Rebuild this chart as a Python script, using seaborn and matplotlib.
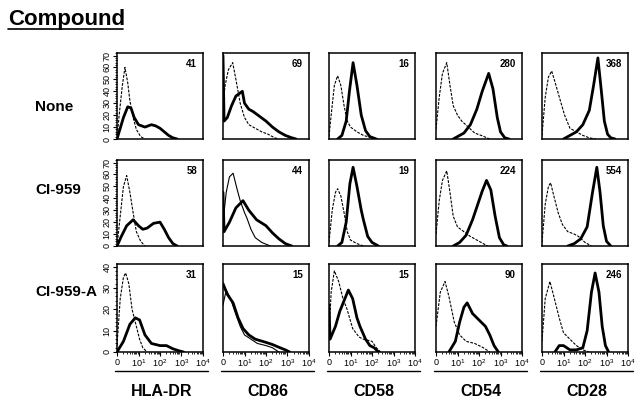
import matplotlib
matplotlib.use("Agg")
import matplotlib.pyplot as plt
import seaborn as sns
import pandas as pd
from matplotlib.ticker import MultipleLocator, FixedLocator
from matplotlib.lines import Line2D

# ==================================================
# DATA (log10 fluorescence, cell count)
# ==================================================
markers = ["HLA-DR", "CD86", "CD58", "CD54", "CD28"]
compounds = ["None", "CI-959", "CI-959-A"]

mfi_none = [41, 69, 16, 280, 368]
mfi_ci959 = [58, 44, 19, 224, 554]
mfi_ci959a = [31, 15, 15, 90, 246]

y_max = [70, 70, 40]

# row 1 - None
hla_none_ctrl = [(0, 0), (0.1, 20), (0.25, 45), (0.37, 60), (0.5, 47), (0.6, 32), (0.75, 18), (0.9, 8), (1.1, 2), (1.3, 0)]
hla_none_ab = [(0, 0), (0.1, 6), (0.3, 18), (0.5, 27), (0.65, 26), (0.8, 18), (1.0, 12), (1.3, 10), (1.6, 12), (1.8, 11), (2.0, 9), (2.2, 6), (2.4, 3), (2.6, 1), (2.8, 0)]
cd86_none_ctrl = [(0, 30), (0.1, 45), (0.25, 58), (0.45, 64), (0.6, 50), (0.8, 30), (1.0, 18), (1.2, 12), (1.5, 9), (1.8, 6), (2.1, 4), (2.4, 1), (2.6, 0)]
cd86_none_ab = [(0, 70), (0.05, 15), (0.2, 18), (0.4, 28), (0.6, 36), (0.9, 40), (1.0, 30), (1.2, 25), (1.4, 23), (1.7, 19), (2.0, 15), (2.3, 10), (2.6, 6), (2.9, 3), (3.2, 1), (3.4, 0)]
cd58_none_ctrl = [(0, 2), (0.1, 20), (0.25, 45), (0.4, 53), (0.55, 45), (0.7, 28), (0.85, 15), (1.0, 10), (1.3, 6), (1.6, 3), (2.0, 1), (2.3, 0)]
cd58_none_ab = [(0.4, 0), (0.6, 3), (0.8, 15), (0.95, 40), (1.12, 64), (1.3, 45), (1.5, 20), (1.7, 7), (1.9, 2), (2.2, 0)]
cd54_none_ctrl = [(0, 8), (0.15, 35), (0.3, 55), (0.5, 64), (0.65, 45), (0.8, 28), (1.0, 20), (1.2, 15), (1.5, 10), (1.8, 5), (2.1, 3), (2.5, 0)]
cd54_none_ab = [(0.8, 0), (1.0, 2), (1.3, 5), (1.6, 12), (1.9, 25), (2.15, 40), (2.45, 55), (2.65, 42), (2.85, 18), (3.0, 6), (3.2, 1), (3.4, 0)]
cd28_none_ctrl = [(0, 3), (0.15, 35), (0.3, 52), (0.45, 57), (0.6, 48), (0.84, 33), (1.05, 20), (1.3, 9), (1.6, 6), (1.9, 3), (2.2, 1), (2.5, 0)]
cd28_none_ab = [(1.0, 0), (1.3, 3), (1.6, 6), (1.9, 12), (2.2, 24), (2.4, 45), (2.6, 68), (2.75, 42), (2.9, 15), (3.05, 4), (3.2, 1), (3.4, 0)]

# row 2 - CI-959
hla_959_ctrl = [(0, 0), (0.15, 25), (0.3, 50), (0.45, 59), (0.6, 45), (0.75, 28), (0.9, 12), (1.1, 4), (1.3, 0)]
hla_959_ab = [(0, 0), (0.2, 8), (0.45, 17), (0.75, 22), (1.0, 17), (1.2, 14), (1.4, 15), (1.7, 19), (2.0, 20), (2.2, 14), (2.4, 7), (2.6, 2), (2.8, 0)]
cd86_959_ctrl = [(0, 20), (0.15, 45), (0.3, 58), (0.47, 61), (0.65, 48), (0.8, 38), (1.0, 28), (1.1, 24), (1.3, 14), (1.5, 7), (1.8, 3), (2.2, 0)]
cd86_959_ab = [(0, 45), (0.05, 12), (0.3, 20), (0.6, 32), (0.93, 38), (1.2, 30), (1.56, 22), (2.0, 17), (2.3, 11), (2.6, 6), (2.9, 2), (3.2, 0)]
cd58_959_ctrl = [(0, 3), (0.15, 30), (0.3, 45), (0.4, 48), (0.55, 42), (0.7, 28), (0.85, 12), (1.0, 5), (1.3, 2), (1.6, 0)]
cd58_959_ab = [(0.4, 0), (0.6, 3), (0.8, 20), (0.97, 52), (1.12, 66), (1.3, 50), (1.5, 30), (1.6, 22), (1.8, 8), (2.0, 3), (2.3, 0)]
cd54_959_ctrl = [(0, 10), (0.15, 38), (0.3, 55), (0.5, 63), (0.65, 45), (0.8, 25), (1.0, 16), (1.3, 12), (1.6, 8), (2.0, 4), (2.4, 0)]
cd54_959_ab = [(0.8, 0), (1.1, 3), (1.4, 9), (1.7, 22), (2.0, 38), (2.15, 46), (2.35, 55), (2.55, 47), (2.75, 25), (2.95, 7), (3.15, 1), (3.3, 0)]
cd28_959_ctrl = [(0, 3), (0.15, 35), (0.3, 50), (0.4, 53), (0.55, 42), (0.75, 28), (0.95, 18), (1.2, 12), (1.5, 10), (1.7, 8), (2.0, 3), (2.3, 0)]
cd28_959_ab = [(1.2, 0), (1.5, 2), (1.8, 6), (2.1, 16), (2.35, 45), (2.55, 66), (2.7, 45), (2.85, 17), (3.0, 4), (3.2, 0)]

# row 3 - CI-959-A
hla_959a_ctrl = [(0, 3), (0.15, 25), (0.3, 35), (0.4, 37), (0.55, 32), (0.7, 20), (0.9, 12), (1.05, 6), (1.2, 2), (1.4, 0)]
hla_959a_ab = [(0, 0), (0.3, 5), (0.6, 13), (0.85, 16), (1.05, 15), (1.3, 8), (1.6, 4), (2.0, 3), (2.3, 3), (2.6, 1.5), (2.9, 0.5), (3.1, 0)]
cd86_959a_ctrl = [(0, 22), (0.15, 29), (0.35, 25), (0.55, 19), (0.8, 12), (1.0, 8), (1.3, 6), (1.6, 4), (2.0, 3), (2.3, 2), (2.6, 0)]
cd86_959a_ab = [(0, 32), (0.2, 27), (0.47, 23), (0.7, 16), (0.93, 11), (1.2, 8), (1.5, 6), (2.0, 4.5), (2.3, 3.5), (2.65, 2), (2.9, 1), (3.1, 0)]
cd58_959a_ctrl = [(0, 8), (0.1, 28), (0.25, 38), (0.45, 33), (0.65, 25), (0.84, 20), (1.1, 11), (1.4, 7), (1.6, 6), (2.0, 5), (2.2, 2), (2.4, 0)]
cd58_959a_ab = [(0, 22), (0.05, 6), (0.3, 12), (0.5, 19), (0.7, 24), (0.9, 29), (1.1, 25), (1.3, 16), (1.44, 12), (1.7, 6), (1.9, 3), (2.1, 2), (2.3, 0)]
cd54_959a_ctrl = [(0, 12), (0.2, 28), (0.42, 33), (0.6, 26), (0.85, 14), (1.1, 8), (1.4, 5), (1.8, 4), (2.2, 2), (2.5, 0)]
cd54_959a_ab = [(0.6, 0), (0.9, 5), (1.1, 14), (1.3, 21), (1.45, 23), (1.7, 18), (2.0, 15), (2.3, 12), (2.5, 8), (2.7, 3), (2.9, 0)]
cd28_959a_ctrl = [(0, 5), (0.15, 25), (0.37, 33), (0.55, 26), (0.8, 16), (1.0, 9), (1.3, 6), (1.6, 3), (1.9, 1), (2.2, 0)]
cd28_959a_ab = [(0.6, 0), (0.8, 3), (1.0, 3), (1.3, 1), (1.6, 1), (1.9, 2), (2.1, 10), (2.3, 28), (2.47, 37), (2.65, 28), (2.8, 12), (2.95, 3), (3.1, 0)]

# ==================================================
# LONG TABLE
# ==================================================
curves = {
    ("None", "HLA-DR"): (hla_none_ctrl, hla_none_ab),
    ("None", "CD86"): (cd86_none_ctrl, cd86_none_ab),
    ("None", "CD58"): (cd58_none_ctrl, cd58_none_ab),
    ("None", "CD54"): (cd54_none_ctrl, cd54_none_ab),
    ("None", "CD28"): (cd28_none_ctrl, cd28_none_ab),
    ("CI-959", "HLA-DR"): (hla_959_ctrl, hla_959_ab),
    ("CI-959", "CD86"): (cd86_959_ctrl, cd86_959_ab),
    ("CI-959", "CD58"): (cd58_959_ctrl, cd58_959_ab),
    ("CI-959", "CD54"): (cd54_959_ctrl, cd54_959_ab),
    ("CI-959", "CD28"): (cd28_959_ctrl, cd28_959_ab),
    ("CI-959-A", "HLA-DR"): (hla_959a_ctrl, hla_959a_ab),
    ("CI-959-A", "CD86"): (cd86_959a_ctrl, cd86_959a_ab),
    ("CI-959-A", "CD58"): (cd58_959a_ctrl, cd58_959a_ab),
    ("CI-959-A", "CD54"): (cd54_959a_ctrl, cd54_959a_ab),
    ("CI-959-A", "CD28"): (cd28_959a_ctrl, cd28_959a_ab),
}

rows = []
for (comp, mark), (ctrl, ab) in curves.items():
    for stain, pts in (("control", ctrl), ("antibody", ab)):
        for i, (x, y) in enumerate(pts):
            rows.append({"compound": comp, "marker": mark, "stain": stain,
                         "order": i, "log_fl": x, "count": y})
df = pd.DataFrame(rows)

mfi = {"None": mfi_none, "CI-959": mfi_ci959, "CI-959-A": mfi_ci959a}

# ==================================================
# FIGURE
# ==================================================
sns.set_theme(style="white")
plt.rcParams["font.family"] = ["Liberation Sans", "DejaVu Sans"]
plt.rcParams["mathtext.fontset"] = "custom"
plt.rcParams["mathtext.rm"] = "Liberation Sans"
for key in ["text.color", "axes.labelcolor", "xtick.color", "ytick.color",
            "axes.edgecolor"]:
    plt.rcParams[key] = "black"

W, H = 641, 405
fig = plt.figure(figsize=(W / 100, H / 100), dpi=100)

col_left = [117, 223, 329, 436, 542]
row_top = [53, 160, 264]
row_h = [86, 86, 88]
panel_w = 86

# thin solid control for CD86 in treated rows
thin_solid = {("CI-959", "CD86"), ("CI-959-A", "CD86")}

for r, comp in enumerate(compounds):
    for c, mark in enumerate(markers):
        ax = fig.add_axes([col_left[c] / W, 1 - (row_top[r] + row_h[r]) / H,
                           panel_w / W, row_h[r] / H])
        sub = df[(df["compound"] == comp) & (df["marker"] == mark)]
        ctrl = sub[sub["stain"] == "control"]
        ab = sub[sub["stain"] == "antibody"]

        ls = "-" if (comp, mark) in thin_solid else (0, (2.5, 1.2))
        sns.lineplot(data=ctrl, x="log_fl", y="count", sort=False,
                     estimator=None, color="black", lw=0.8,
                     linestyle=ls, ax=ax)
        sns.lineplot(data=ab, x="log_fl", y="count", sort=False,
                     estimator=None, color="black", lw=2.0, ax=ax)

        ax.set_xlim(0, 4)
        ax.set_ylim(0, y_max[r] * 1.03)
        ax.set_xlabel("")
        ax.set_ylabel("")
        for s in ax.spines.values():
            s.set_color("black")
            s.set_linewidth(1.1)

        ax.text(0.93, 0.93, str(mfi[comp][c]), transform=ax.transAxes,
                ha="right", va="top", fontsize=7, fontweight="bold")

        # x axis: decades only on the bottom row
        if r == 2:
            ax.set_xticks([0, 1, 2, 3, 4])
            ax.set_xticklabels(["0", "$10^1$", "$10^2$", "$10^3$", "$10^4$"],
                               fontsize=6.5)
            minors = [k + m for k in range(4) for m in
                      [0.301, 0.477, 0.602, 0.699, 0.778, 0.845, 0.903, 0.954]]
            ax.xaxis.set_minor_locator(FixedLocator(minors))
            ax.tick_params(axis="x", which="major", direction="out",
                           length=3, width=0.8, pad=1, bottom=True)
            ax.tick_params(axis="x", which="minor", direction="out",
                           length=1.5, width=0.6, bottom=True)
        else:
            ax.set_xticks([])

        # y axis: counts only on the first column
        if c == 0:
            ax.set_yticks(range(0, y_max[r] + 1, 10))
            ax.set_yticklabels([str(v) for v in range(0, y_max[r] + 1, 10)],
                               rotation=90, va="center", fontsize=6.5)
            ax.yaxis.set_minor_locator(MultipleLocator(2))
            ax.tick_params(axis="y", which="major", direction="out",
                           length=3, width=0.8, pad=1, left=True)
            ax.tick_params(axis="y", which="minor", direction="out",
                           length=1.5, width=0.6, left=True)
        else:
            ax.set_yticks([])

# row labels
row_y = [107, 190, 292]
for comp, y in zip(compounds, row_y):
    fig.text(35 / W, 1 - y / H, comp, ha="left", va="center",
             fontsize=11, fontweight="bold")

# column labels with rule above
for c, mark in enumerate(markers):
    x0 = (col_left[c] - 2) / W
    x1 = (col_left[c] + panel_w + 5) / W
    fig.add_artist(Line2D([x0, x1], [1 - 371 / H, 1 - 371 / H],
                          color="black", lw=1.0))
    fig.text((col_left[c] + panel_w / 2 + 2) / W, 1 - 392 / H, mark,
             ha="center", va="center", fontsize=11.5, fontweight="bold")

# title
fig.text(8 / W, 1 - 20 / H, "Compound", ha="left", va="center",
         fontsize=16, fontweight="bold")
fig.add_artist(Line2D([8 / W, 123 / W], [1 - 29 / H, 1 - 29 / H],
                      color="black", lw=1.2))

fig.savefig("out.png", dpi=100)
plt.close(fig)
